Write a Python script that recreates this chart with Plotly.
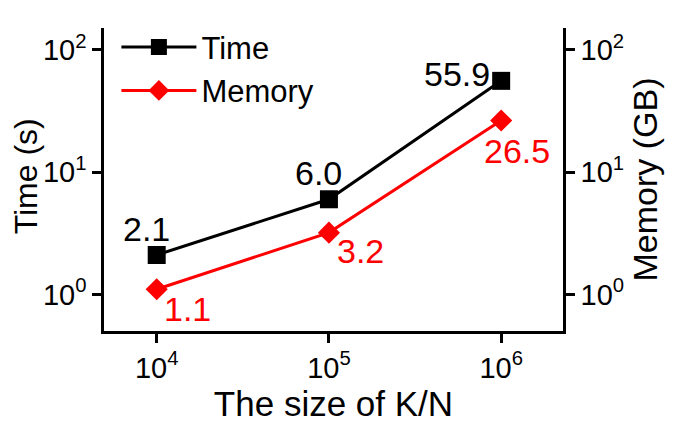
import math
import plotly.graph_objects as go

sizes = [1e4, 1e5, 1e6]
time_s = [2.1, 6.0, 55.9]
memory_gb = [1.1, 3.2, 26.5]

y_ticks = [1, 10, 100]
y_tick_text = ["10<sup>0</sup>", "10<sup>1</sup>", "10<sup>2</sup>"]
x_tick_text = ["10<sup>4</sup>", "10<sup>5</sup>", "10<sup>6</sup>"]

FONT = "Liberation Sans, Arial, sans-serif"
yrange = [-0.30, 2.18]

fig = go.Figure()
fig.add_trace(go.Scatter(
    x=sizes, y=time_s, name="Time", mode="lines+markers",
    line=dict(color="black", width=3),
    marker=dict(symbol="square", size=18, color="black"),
))
fig.add_trace(go.Scatter(
    x=sizes, y=memory_gb, name="Memory", mode="lines+markers", yaxis="y2",
    line=dict(color="red", width=3),
    marker=dict(symbol="diamond", size=17, color="red"),
))

# value labels (annotations on log axes take log10 coordinates)
time_shift = [(-10, 26), (-10, 26), (-44, 7)]
mem_shift = [(31, -20), (32, -18), (16, -31)]
for x, v, (dx, dy) in zip(sizes, time_s, time_shift):
    fig.add_annotation(x=math.log10(x), y=math.log10(v), xref="x", yref="y",
                       text=f"{v:.1f}", showarrow=False, xshift=dx, yshift=dy,
                       font=dict(size=34, color="black", family=FONT))
for x, v, (dx, dy) in zip(sizes, memory_gb, mem_shift):
    fig.add_annotation(x=math.log10(x), y=math.log10(v), xref="x", yref="y2",
                       text=f"{v:.1f}", showarrow=False, xshift=dx, yshift=dy,
                       font=dict(size=34, color="red", family=FONT))

# left axis title, placed by hand (the axis title gets squeezed into the ticks)
fig.add_annotation(text="Time (s)", xref="paper", yref="paper", x=-0.168, y=0.51,
                   textangle=-90, showarrow=False, xanchor="center", yanchor="middle",
                   borderpad=0,
                   font=dict(size=32, color="black", family=FONT))

axis_common = dict(
    showline=True, linecolor="black", linewidth=2.5,
    ticks="outside", ticklen=9, tickwidth=2.5, tickcolor="black",
    showgrid=False, zeroline=False, automargin=False,
    tickfont=dict(size=29, color="black", family=FONT),
)

# page body has an 8px margin, so the figure is a bit smaller than the window
fig.update_layout(
    width=667, height=424,
    margin=dict(l=96, r=112, t=18, b=101),
    plot_bgcolor="white", paper_bgcolor="white",
    font=dict(family=FONT, color="black"),
    showlegend=True,
    legend=dict(x=0.027, y=1.025, xanchor="left", yanchor="top",
                bgcolor="rgba(0,0,0,0)", itemwidth=75,
                font=dict(size=31, color="black", family=FONT),
                tracegroupgap=0),
    xaxis=dict(type="log", range=[3.694, 6.359], tickvals=sizes,
               ticktext=x_tick_text,
               title=dict(text="The size of K/N", font=dict(size=35), standoff=3),
               **axis_common),
    yaxis=dict(type="log", range=yrange, tickvals=y_ticks,
               ticktext=y_tick_text,
               **axis_common),
    yaxis2=dict(type="log", range=yrange, tickvals=y_ticks,
                ticktext=y_tick_text, overlaying="y", side="right",
                title=dict(text="Memory (GB)", font=dict(size=34), standoff=11),
                **axis_common),
)

fig.write_html("out.html")
